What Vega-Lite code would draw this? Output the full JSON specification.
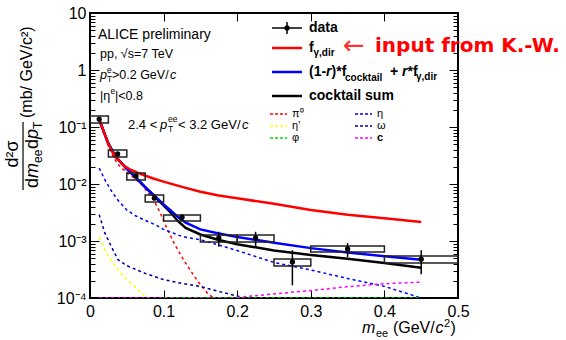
{
 "$schema": "https://vega.github.io/schema/vega-lite/v6.json",
 "width": 368, "height": 285,
 "autosize": {"type": "none"},
 "padding": {"left": 90, "top": 13, "right": 108, "bottom": 42},
 "background": "white",
 "data": {"values": [{"k": 1}]},
 "config": {
  "view": {"stroke": "black", "strokeWidth": 2},
  "text": {"font": "Liberation Sans", "align": "left", "baseline": "middle", "color": "black", "fontSize": 12.5},
  "axis": {"grid": false, "domain": false, "tickColor": "black", "tickWidth": 1, "labelColor": "black", "labelFont": "Liberation Sans", "labelFontSize": 16, "title": null, "labelOverlap": false, "labelFlush": false}
 },
 "datasets": {
  "pts": [
   {"x":0.0125,"y":0.138,"xlo":0,"xhi":0.025,"blo":0.1175,"bhi":0.156,"elo":0.132,"ehi":0.144},
   {"x":0.0375,"y":0.0336,"xlo":0.025,"xhi":0.05,"blo":0.0298,"bhi":0.0394,"elo":0.032,"ehi":0.0352},
   {"x":0.0625,"y":0.0138,"xlo":0.05,"xhi":0.075,"blo":0.01175,"bhi":0.0156,"elo":0.0131,"ehi":0.0145},
   {"x":0.0875,"y":0.00567,"xlo":0.075,"xhi":0.1,"blo":0.00483,"bhi":0.00641,"elo":0.0053,"ehi":0.0061},
   {"x":0.125,"y":0.00262,"xlo":0.1,"xhi":0.15,"blo":0.00224,"bhi":0.00286,"elo":0.00235,"ehi":0.0029},
   {"x":0.175,"y":0.00113,"xlo":0.15,"xhi":0.2,"blo":0.00096,"bhi":0.00127,"elo":0.00079,"ehi":0.00145},
   {"x":0.225,"y":0.00113,"xlo":0.2,"xhi":0.25,"blo":0.00096,"bhi":0.00127,"elo":0.00079,"ehi":0.00145},
   {"x":0.275,"y":0.000428,"xlo":0.25,"xhi":0.3,"blo":0.000364,"bhi":0.000483,"elo":0.000167,"ehi":0.00069},
   {"x":0.35,"y":0.000724,"xlo":0.3,"xhi":0.4,"blo":0.000641,"bhi":0.000817,"elo":0.00052,"ehi":0.00092},
   {"x":0.45,"y":0.00048,"xlo":0.4,"xhi":0.5,"blo":0.000411,"bhi":0.000546,"elo":0.00026,"ehi":0.00069}
  ],
  "curves": [
   {"s":"pi0","x":0.0125,"y":0.13},{"s":"pi0","x":0.02,"y":0.07},{"s":"pi0","x":0.025,"y":0.046},{"s":"pi0","x":0.03,"y":0.033},{"s":"pi0","x":0.038,"y":0.022},{"s":"pi0","x":0.05,"y":0.0158},{"s":"pi0","x":0.06,"y":0.0128},{"s":"pi0","x":0.07,"y":0.0098},{"s":"pi0","x":0.08,"y":0.0068},{"s":"pi0","x":0.087,"y":0.0051},{"s":"pi0","x":0.095,"y":0.0032},{"s":"pi0","x":0.105,"y":0.0016},{"s":"pi0","x":0.115,"y":0.00088},{"s":"pi0","x":0.127,"y":0.00047},{"s":"pi0","x":0.14,"y":0.00026},{"s":"pi0","x":0.15,"y":0.00017},{"s":"pi0","x":0.16,"y":0.00012},{"s":"pi0","x":0.168,"y":0.0001},
   {"s":"eta","x":0.0125,"y":0.019},{"s":"eta","x":0.02,"y":0.012},{"s":"eta","x":0.03,"y":0.0072},{"s":"eta","x":0.038,"y":0.0052},{"s":"eta","x":0.05,"y":0.0035},{"s":"eta","x":0.061,"y":0.0028},{"s":"eta","x":0.075,"y":0.0023},{"s":"eta","x":0.09,"y":0.0019},{"s":"eta","x":0.1,"y":0.0016},{"s":"eta","x":0.125,"y":0.0012},{"s":"eta","x":0.15,"y":0.00105},{"s":"eta","x":0.175,"y":0.00085},{"s":"eta","x":0.2,"y":0.00068},{"s":"eta","x":0.25,"y":0.00042},{"s":"eta","x":0.3,"y":0.00031},{"s":"eta","x":0.35,"y":0.00022},{"s":"eta","x":0.4,"y":0.00016},{"s":"eta","x":0.45,"y":0.0001},
   {"s":"etap","x":0.0125,"y":0.00117},{"s":"etap","x":0.02,"y":0.0007},{"s":"etap","x":0.03,"y":0.00043},{"s":"etap","x":0.038,"y":0.00031},{"s":"etap","x":0.05,"y":0.00021},{"s":"etap","x":0.061,"y":0.00016},{"s":"etap","x":0.07,"y":0.00012},{"s":"etap","x":0.08,"y":0.0001},
   {"s":"omega","x":0.0125,"y":0.0029},{"s":"omega","x":0.02,"y":0.0014},{"s":"omega","x":0.03,"y":0.00075},{"s":"omega","x":0.038,"y":0.00047},{"s":"omega","x":0.05,"y":0.00037},{"s":"omega","x":0.075,"y":0.00027},{"s":"omega","x":0.1,"y":0.00021},{"s":"omega","x":0.125,"y":0.00018},{"s":"omega","x":0.15,"y":0.00016},{"s":"omega","x":0.175,"y":0.00013},{"s":"omega","x":0.2,"y":0.000108},{"s":"omega","x":0.21,"y":0.0001},
   {"s":"c","x":0.0125,"y":0.0001},{"s":"c","x":0.19,"y":0.0001},{"s":"c","x":0.22,"y":0.000108},{"s":"c","x":0.25,"y":0.000118},{"s":"c","x":0.3,"y":0.000135},{"s":"c","x":0.35,"y":0.000158},{"s":"c","x":0.4,"y":0.000178},{"s":"c","x":0.45,"y":0.00019},
   {"s":"phi","x":0.1,"y":0.0001},{"s":"phi","x":0.45,"y":0.0001},
   {"s":"cocktail","x":0.0125,"y":0.135},{"s":"cocktail","x":0.017,"y":0.095},{"s":"cocktail","x":0.02,"y":0.075},{"s":"cocktail","x":0.025,"y":0.051},{"s":"cocktail","x":0.035,"y":0.03},{"s":"cocktail","x":0.05,"y":0.0185},{"s":"cocktail","x":0.061,"y":0.0135},{"s":"cocktail","x":0.075,"y":0.0088},{"s":"cocktail","x":0.086,"y":0.0063},{"s":"cocktail","x":0.1,"y":0.0042},{"s":"cocktail","x":0.11,"y":0.0031},{"s":"cocktail","x":0.12,"y":0.0022},{"s":"cocktail","x":0.13,"y":0.0017},{"s":"cocktail","x":0.15,"y":0.0013},{"s":"cocktail","x":0.175,"y":0.00104},{"s":"cocktail","x":0.2,"y":0.00088},{"s":"cocktail","x":0.25,"y":0.00068},{"s":"cocktail","x":0.3,"y":0.00057},{"s":"cocktail","x":0.35,"y":0.00049},{"s":"cocktail","x":0.4,"y":0.00041},{"s":"cocktail","x":0.45,"y":0.00034},
   {"s":"total","x":0.0125,"y":0.135},{"s":"total","x":0.017,"y":0.095},{"s":"total","x":0.02,"y":0.075},{"s":"total","x":0.025,"y":0.051},{"s":"total","x":0.035,"y":0.03},{"s":"total","x":0.05,"y":0.0185},{"s":"total","x":0.061,"y":0.0135},{"s":"total","x":0.075,"y":0.0088},{"s":"total","x":0.086,"y":0.0065},{"s":"total","x":0.1,"y":0.0044},{"s":"total","x":0.11,"y":0.0034},{"s":"total","x":0.12,"y":0.0026},{"s":"total","x":0.13,"y":0.0021},{"s":"total","x":0.15,"y":0.0016},{"s":"total","x":0.175,"y":0.00135},{"s":"total","x":0.2,"y":0.00118},{"s":"total","x":0.25,"y":0.00093},{"s":"total","x":0.3,"y":0.00075},{"s":"total","x":0.35,"y":0.00063},{"s":"total","x":0.4,"y":0.00054},{"s":"total","x":0.45,"y":0.00047},
   {"s":"fdir","x":0.0125,"y":0.135},{"s":"fdir","x":0.017,"y":0.095},{"s":"fdir","x":0.02,"y":0.075},{"s":"fdir","x":0.025,"y":0.051},{"s":"fdir","x":0.03,"y":0.037},{"s":"fdir","x":0.037,"y":0.028},{"s":"fdir","x":0.045,"y":0.0215},{"s":"fdir","x":0.055,"y":0.0178},{"s":"fdir","x":0.07,"y":0.0148},{"s":"fdir","x":0.085,"y":0.0126},{"s":"fdir","x":0.1,"y":0.011},{"s":"fdir","x":0.125,"y":0.0089},{"s":"fdir","x":0.15,"y":0.0073},{"s":"fdir","x":0.175,"y":0.0063},{"s":"fdir","x":0.2,"y":0.0056},{"s":"fdir","x":0.25,"y":0.0045},{"s":"fdir","x":0.3,"y":0.0035},{"s":"fdir","x":0.35,"y":0.0029},{"s":"fdir","x":0.4,"y":0.0025},{"s":"fdir","x":0.45,"y":0.00215}
  ]
 },
 "resolve": {"axis": {"x": "independent", "y": "independent"}},
 "layer": [
  {"data": {"name": "pts"}, "mark": {"type": "point", "opacity": 0},
   "encoding": {
    "x": {"field": "x", "type": "quantitative", "scale": {"domain": [0, 0.5], "nice": false, "zero": false},
      "axis": {"orient": "bottom", "values": [0, 0.1, 0.2, 0.3, 0.4, 0.5], "labelExpr": "datum.value == 0 ? '0' : format(datum.value, '.1f')", "tickSize": -8, "labelPadding": 13}},
    "y": {"field": "y", "type": "quantitative", "scale": {"type": "log", "domain": [0.0001, 10], "nice": false},
      "axis": {"orient": "left", "values": [0.0001,0.0002,0.0003,0.0004,0.0005,0.0006,0.0007,0.0008,0.0009,0.001,0.002,0.003,0.004,0.005,0.006,0.007,0.008,0.009,0.01,0.02,0.03,0.04,0.05,0.06,0.07,0.08,0.09,0.1,0.2,0.3,0.4,0.5,0.6,0.7,0.8,0.9,1,2,3,4,5,6,7,8,9,10],
       "labelExpr": "datum.value == 10 ? '10' : datum.value == 1 ? '1' : datum.value == 0.1 ? '10⁻¹' : datum.value == 0.01 ? '10⁻²' : datum.value == 0.001 ? '10⁻³' : datum.value == 0.0001 ? '10⁻⁴' : ''",
       "tickSize": {"condition": {"test": "indexof([0.0001,0.001,0.01,0.1,1,10], datum.value) >= 0", "value": -9}, "value": -5},
       "labelPadding": 13}}
   }},
  {"data": {"name": "pts"}, "mark": {"type": "point", "opacity": 0},
   "encoding": {
    "x": {"field": "x", "type": "quantitative", "axis": {"orient": "top", "values": [0, 0.1, 0.2, 0.3, 0.4, 0.5], "labels": false, "tickSize": -8}},
    "y": {"field": "y", "type": "quantitative", "axis": {"orient": "right", "labels": false, "values": [0.0001,0.0002,0.0003,0.0004,0.0005,0.0006,0.0007,0.0008,0.0009,0.001,0.002,0.003,0.004,0.005,0.006,0.007,0.008,0.009,0.01,0.02,0.03,0.04,0.05,0.06,0.07,0.08,0.09,0.1,0.2,0.3,0.4,0.5,0.6,0.7,0.8,0.9,1,2,3,4,5,6,7,8,9,10],
       "tickSize": {"condition": {"test": "indexof([0.0001,0.001,0.01,0.1,1,10], datum.value) >= 0", "value": -9}, "value": -5}}}
   }},
  {"data": {"name": "curves"}, "transform": [{"filter": "indexof(['pi0','eta','etap','omega','c','phi'], datum.s) >= 0"}],
   "mark": {"type": "line", "strokeDash": [3, 3], "strokeWidth": 1.5, "clip": true},
   "encoding": {
    "x": {"field": "x", "type": "quantitative", "axis": null},
    "y": {"field": "y", "type": "quantitative", "axis": null},
    "color": {"field": "s", "type": "nominal", "legend": null, "scale": {"domain": ["c", "phi", "pi0", "eta", "etap", "omega"], "range": ["#ff00ff", "#00dd00", "#ff0000", "#0000ff", "#ffff00", "#000099"]}}
   }},
  {"data": {"name": "curves"}, "transform": [{"filter": "datum.s == 'cocktail'"}],
   "mark": {"type": "line", "color": "black", "strokeWidth": 2.5, "clip": true},
   "encoding": {"x": {"field": "x", "type": "quantitative", "axis": null}, "y": {"field": "y", "type": "quantitative", "axis": null}}},
  {"data": {"name": "curves"}, "transform": [{"filter": "datum.s == 'total'"}],
   "mark": {"type": "line", "color": "#0000ff", "strokeWidth": 2.5, "clip": true},
   "encoding": {"x": {"field": "x", "type": "quantitative", "axis": null}, "y": {"field": "y", "type": "quantitative", "axis": null}}},
  {"data": {"name": "curves"}, "transform": [{"filter": "datum.s == 'fdir'"}],
   "mark": {"type": "line", "color": "#ff0000", "strokeWidth": 2.5, "clip": true},
   "encoding": {"x": {"field": "x", "type": "quantitative", "axis": null}, "y": {"field": "y", "type": "quantitative", "axis": null}}},
  {"data": {"name": "pts"}, "mark": {"type": "rect", "filled": false, "color": "#222222", "strokeWidth": 1.5, "clip": true},
   "encoding": {"x": {"field": "xlo", "type": "quantitative", "axis": null}, "x2": {"field": "xhi"}, "y": {"field": "blo", "type": "quantitative", "axis": null}, "y2": {"field": "bhi"}}},
  {"data": {"name": "pts"}, "mark": {"type": "rule", "color": "black", "strokeWidth": 1.5},
   "encoding": {"x": {"field": "x", "type": "quantitative", "axis": null}, "y": {"field": "elo", "type": "quantitative", "axis": null}, "y2": {"field": "ehi"}}},
  {"data": {"name": "pts"}, "mark": {"type": "point", "filled": true, "shape": "circle", "size": 28, "color": "black", "opacity": 1},
   "encoding": {"x": {"field": "x", "type": "quantitative", "axis": null}, "y": {"field": "y", "type": "quantitative", "axis": null}}},

  {"mark": {"type": "text", "text": "ALICE preliminary", "fontSize": 14}, "encoding": {"x": {"datum": 0.01087, "type": "quantitative", "axis": null}, "y": {"datum": 4.11, "type": "quantitative", "axis": null}}},
  {"mark": {"type": "text", "text": "pp, √s=7 TeV"}, "encoding": {"x": {"datum": 0.01359, "type": "quantitative", "axis": null}, "y": {"datum": 1.909, "type": "quantitative", "axis": null}}},
  {"mark": {"type": "text", "text": "p", "fontStyle": "italic"}, "encoding": {"x": {"datum": 0.01359, "type": "quantitative", "axis": null}, "y": {"datum": 0.817, "type": "quantitative", "axis": null}}},
  {"mark": {"type": "text", "text": "e", "fontSize": 8.5, "dx": 7, "dy": -5}, "encoding": {"x": {"datum": 0.01359, "type": "quantitative", "axis": null}, "y": {"datum": 0.817, "type": "quantitative", "axis": null}}},
  {"mark": {"type": "text", "text": "T", "fontSize": 8.5, "dx": 7, "dy": 4}, "encoding": {"x": {"datum": 0.01359, "type": "quantitative", "axis": null}, "y": {"datum": 0.817, "type": "quantitative", "axis": null}}},
  {"mark": {"type": "text", "text": ">0.2 GeV/", "dx": 12}, "encoding": {"x": {"datum": 0.01359, "type": "quantitative", "axis": null}, "y": {"datum": 0.817, "type": "quantitative", "axis": null}}},
  {"mark": {"type": "text", "text": "c", "fontStyle": "italic", "dx": 70}, "encoding": {"x": {"datum": 0.01359, "type": "quantitative", "axis": null}, "y": {"datum": 0.817, "type": "quantitative", "axis": null}}},
  {"mark": {"type": "text", "text": "|η"}, "encoding": {"x": {"datum": 0.01359, "type": "quantitative", "axis": null}, "y": {"datum": 0.35, "type": "quantitative", "axis": null}}},
  {"mark": {"type": "text", "text": "e", "fontSize": 8.5, "dx": 10.5, "dy": -5}, "encoding": {"x": {"datum": 0.01359, "type": "quantitative", "axis": null}, "y": {"datum": 0.35, "type": "quantitative", "axis": null}}},
  {"mark": {"type": "text", "text": "|<0.8", "dx": 15}, "encoding": {"x": {"datum": 0.01359, "type": "quantitative", "axis": null}, "y": {"datum": 0.35, "type": "quantitative", "axis": null}}},
  {"mark": {"type": "text", "text": "2.4 <", "fontSize": 13}, "encoding": {"x": {"datum": 0.0516, "type": "quantitative", "axis": null}, "y": {"datum": 0.1084, "type": "quantitative", "axis": null}}},
  {"mark": {"type": "text", "text": "p", "fontSize": 13, "fontStyle": "italic", "dx": 32}, "encoding": {"x": {"datum": 0.0516, "type": "quantitative", "axis": null}, "y": {"datum": 0.1084, "type": "quantitative", "axis": null}}},
  {"mark": {"type": "text", "text": "ee", "fontSize": 8.5, "dx": 40, "dy": -6}, "encoding": {"x": {"datum": 0.0516, "type": "quantitative", "axis": null}, "y": {"datum": 0.1084, "type": "quantitative", "axis": null}}},
  {"mark": {"type": "text", "text": "T", "fontSize": 8.5, "dx": 40, "dy": 4}, "encoding": {"x": {"datum": 0.0516, "type": "quantitative", "axis": null}, "y": {"datum": 0.1084, "type": "quantitative", "axis": null}}},
  {"mark": {"type": "text", "text": "< 3.2 GeV/", "fontSize": 13, "dx": 50}, "encoding": {"x": {"datum": 0.0516, "type": "quantitative", "axis": null}, "y": {"datum": 0.1084, "type": "quantitative", "axis": null}}},
  {"mark": {"type": "text", "text": "c", "fontSize": 13, "fontStyle": "italic", "dx": 114}, "encoding": {"x": {"datum": 0.0516, "type": "quantitative", "axis": null}, "y": {"datum": 0.1084, "type": "quantitative", "axis": null}}},

  {"mark": {"type": "rule", "color": "black", "strokeWidth": 1.5}, "encoding": {"x": {"datum": 0.2473, "type": "quantitative", "axis": null}, "x2": {"datum": 0.288}, "y": {"datum": 5.456, "type": "quantitative", "axis": null}}},
  {"mark": {"type": "rule", "color": "black", "strokeWidth": 1.5}, "encoding": {"x": {"datum": 0.2677, "type": "quantitative", "axis": null}, "y": {"datum": 6.96, "type": "quantitative", "axis": null}, "y2": {"datum": 4.28}}},
  {"mark": {"type": "point", "filled": true, "shape": "circle", "size": 28, "color": "black", "opacity": 1}, "encoding": {"x": {"datum": 0.2677, "type": "quantitative", "axis": null}, "y": {"datum": 5.456, "type": "quantitative", "axis": null}}},
  {"mark": {"type": "text", "text": "data", "fontSize": 14, "fontWeight": "bold"}, "encoding": {"x": {"datum": 0.2976, "type": "quantitative", "axis": null}, "y": {"datum": 5.456, "type": "quantitative", "axis": null}}},

  {"mark": {"type": "rule", "color": "#ff0000", "strokeWidth": 2.5}, "encoding": {"x": {"datum": 0.2473, "type": "quantitative", "axis": null}, "x2": {"datum": 0.288}, "y": {"datum": 2.432, "type": "quantitative", "axis": null}}},
  {"mark": {"type": "text", "text": "f", "fontSize": 14, "fontWeight": "bold"}, "encoding": {"x": {"datum": 0.2976, "type": "quantitative", "axis": null}, "y": {"datum": 2.432, "type": "quantitative", "axis": null}}},
  {"mark": {"type": "text", "text": "γ,dir", "fontSize": 10, "fontWeight": "bold", "dx": 4.5, "dy": 5}, "encoding": {"x": {"datum": 0.2976, "type": "quantitative", "axis": null}, "y": {"datum": 2.432, "type": "quantitative", "axis": null}}},
  {"mark": {"type": "text", "text": "←", "font": "DejaVu Sans", "fontSize": 26, "color": "#ff3030"}, "encoding": {"x": {"datum": 0.3438, "type": "quantitative", "axis": null}, "y": {"datum": 2.64, "type": "quantitative", "axis": null}}},
  {"mark": {"type": "text", "text": "input from K.-W.", "font": "DejaVu Sans", "fontSize": 20, "fontWeight": "bold", "color": "#ff0000"}, "encoding": {"x": {"datum": 0.3872, "type": "quantitative", "axis": null}, "y": {"datum": 2.64, "type": "quantitative", "axis": null}}},

  {"mark": {"type": "rule", "color": "#0000ff", "strokeWidth": 2.5}, "encoding": {"x": {"datum": 0.2473, "type": "quantitative", "axis": null}, "x2": {"datum": 0.288}, "y": {"datum": 0.9226, "type": "quantitative", "axis": null}}},
  {"mark": {"type": "text", "text": "(1-", "fontSize": 14, "fontWeight": "bold"}, "encoding": {"x": {"datum": 0.2976, "type": "quantitative", "axis": null}, "y": {"datum": 0.9226, "type": "quantitative", "axis": null}}},
  {"mark": {"type": "text", "text": "r", "fontSize": 14, "fontWeight": "bold", "fontStyle": "italic", "dx": 17}, "encoding": {"x": {"datum": 0.2976, "type": "quantitative", "axis": null}, "y": {"datum": 0.9226, "type": "quantitative", "axis": null}}},
  {"mark": {"type": "text", "text": ")*f", "fontSize": 14, "fontWeight": "bold", "dx": 22.5}, "encoding": {"x": {"datum": 0.2976, "type": "quantitative", "axis": null}, "y": {"datum": 0.9226, "type": "quantitative", "axis": null}}},
  {"mark": {"type": "text", "text": "cocktail", "fontSize": 10, "fontWeight": "bold", "dx": 36, "dy": 6}, "encoding": {"x": {"datum": 0.2976, "type": "quantitative", "axis": null}, "y": {"datum": 0.9226, "type": "quantitative", "axis": null}}},
  {"mark": {"type": "text", "text": "+", "fontSize": 14, "fontWeight": "bold", "dx": 81}, "encoding": {"x": {"datum": 0.2976, "type": "quantitative", "axis": null}, "y": {"datum": 0.9226, "type": "quantitative", "axis": null}}},
  {"mark": {"type": "text", "text": "r", "fontSize": 14, "fontWeight": "bold", "fontStyle": "italic", "dx": 93}, "encoding": {"x": {"datum": 0.2976, "type": "quantitative", "axis": null}, "y": {"datum": 0.9226, "type": "quantitative", "axis": null}}},
  {"mark": {"type": "text", "text": "*f", "fontSize": 14, "fontWeight": "bold", "dx": 98.5}, "encoding": {"x": {"datum": 0.2976, "type": "quantitative", "axis": null}, "y": {"datum": 0.9226, "type": "quantitative", "axis": null}}},
  {"mark": {"type": "text", "text": "γ,dir", "fontSize": 10, "fontWeight": "bold", "dx": 107, "dy": 5}, "encoding": {"x": {"datum": 0.2976, "type": "quantitative", "axis": null}, "y": {"datum": 0.9226, "type": "quantitative", "axis": null}}},

  {"mark": {"type": "rule", "color": "black", "strokeWidth": 2.5}, "encoding": {"x": {"datum": 0.2473, "type": "quantitative", "axis": null}, "x2": {"datum": 0.288}, "y": {"datum": 0.35, "type": "quantitative", "axis": null}}},
  {"mark": {"type": "text", "text": "cocktail sum", "fontSize": 14, "fontWeight": "bold"}, "encoding": {"x": {"datum": 0.2976, "type": "quantitative", "axis": null}, "y": {"datum": 0.35, "type": "quantitative", "axis": null}}},

  {"mark": {"type": "rule", "color": "#ff0000", "strokeWidth": 1.5, "strokeDash": [3, 2]}, "encoding": {"x": {"datum": 0.2446, "type": "quantitative", "axis": null}, "x2": {"datum": 0.2677}, "y": {"datum": 0.169, "type": "quantitative", "axis": null}}},
  {"mark": {"type": "rule", "color": "#ffff00", "strokeWidth": 1.5, "strokeDash": [3, 2]}, "encoding": {"x": {"datum": 0.2446, "type": "quantitative", "axis": null}, "x2": {"datum": 0.2677}, "y": {"datum": 0.1042, "type": "quantitative", "axis": null}}},
  {"mark": {"type": "rule", "color": "#00dd00", "strokeWidth": 1.5, "strokeDash": [3, 2]}, "encoding": {"x": {"datum": 0.2446, "type": "quantitative", "axis": null}, "x2": {"datum": 0.2677}, "y": {"datum": 0.0641, "type": "quantitative", "axis": null}}},
  {"mark": {"type": "rule", "color": "#0000ff", "strokeWidth": 1.5, "strokeDash": [3, 2]}, "encoding": {"x": {"datum": 0.3601, "type": "quantitative", "axis": null}, "x2": {"datum": 0.3832}, "y": {"datum": 0.169, "type": "quantitative", "axis": null}}},
  {"mark": {"type": "rule", "color": "#000099", "strokeWidth": 1.5, "strokeDash": [3, 2]}, "encoding": {"x": {"datum": 0.3601, "type": "quantitative", "axis": null}, "x2": {"datum": 0.3832}, "y": {"datum": 0.1042, "type": "quantitative", "axis": null}}},
  {"mark": {"type": "rule", "color": "#ff00ff", "strokeWidth": 1.5, "strokeDash": [3, 2]}, "encoding": {"x": {"datum": 0.3601, "type": "quantitative", "axis": null}, "x2": {"datum": 0.3832}, "y": {"datum": 0.0641, "type": "quantitative", "axis": null}}},
  {"mark": {"type": "text", "text": "π⁰", "fontSize": 11}, "encoding": {"x": {"datum": 0.2745, "type": "quantitative", "axis": null}, "y": {"datum": 0.169, "type": "quantitative", "axis": null}}},
  {"mark": {"type": "text", "text": "η'", "fontSize": 11}, "encoding": {"x": {"datum": 0.2745, "type": "quantitative", "axis": null}, "y": {"datum": 0.1042, "type": "quantitative", "axis": null}}},
  {"mark": {"type": "text", "text": "φ", "fontSize": 11}, "encoding": {"x": {"datum": 0.2745, "type": "quantitative", "axis": null}, "y": {"datum": 0.0641, "type": "quantitative", "axis": null}}},
  {"mark": {"type": "text", "text": "η", "fontSize": 11}, "encoding": {"x": {"datum": 0.3899, "type": "quantitative", "axis": null}, "y": {"datum": 0.169, "type": "quantitative", "axis": null}}},
  {"mark": {"type": "text", "text": "ω", "fontSize": 11}, "encoding": {"x": {"datum": 0.3899, "type": "quantitative", "axis": null}, "y": {"datum": 0.1042, "type": "quantitative", "axis": null}}},
  {"mark": {"type": "text", "text": "c", "fontSize": 11, "fontWeight": "bold"}, "encoding": {"x": {"datum": 0.3899, "type": "quantitative", "axis": null}, "y": {"datum": 0.0641, "type": "quantitative", "axis": null}}},

  {"mark": {"type": "text", "text": "(mb/ GeV/c²)", "fontSize": 16, "angle": 270}, "encoding": {"x": {"datum": -0.0856, "type": "quantitative", "axis": null}, "y": {"datum": 0.1439, "type": "quantitative", "axis": null}}},
  {"mark": {"type": "text", "text": "d²σ", "fontSize": 18, "angle": 270, "align": "center"}, "encoding": {"x": {"datum": -0.1046, "type": "quantitative", "axis": null}, "y": {"datum": 0.0336, "type": "quantitative", "axis": null}}},
  {"mark": {"type": "rule", "color": "black", "strokeWidth": 1.2}, "encoding": {"x": {"datum": -0.091, "type": "quantitative", "axis": null}, "y": {"datum": 0.1225, "type": "quantitative", "axis": null}, "y2": {"datum": 0.00785}}},
  {"mark": {"type": "text", "text": "d", "fontSize": 18, "angle": 270}, "encoding": {"x": {"datum": -0.0774, "type": "quantitative", "axis": null}, "y": {"datum": 0.00851, "type": "quantitative", "axis": null}}},
  {"mark": {"type": "text", "text": "m", "fontSize": 18, "angle": 270, "fontStyle": "italic", "dx": 10}, "encoding": {"x": {"datum": -0.0774, "type": "quantitative", "axis": null}, "y": {"datum": 0.00851, "type": "quantitative", "axis": null}}},
  {"mark": {"type": "text", "text": "ee", "fontSize": 12, "angle": 270, "dx": 25, "dy": 5}, "encoding": {"x": {"datum": -0.0774, "type": "quantitative", "axis": null}, "y": {"datum": 0.00851, "type": "quantitative", "axis": null}}},
  {"mark": {"type": "text", "text": "d", "fontSize": 18, "angle": 270, "dx": 39}, "encoding": {"x": {"datum": -0.0774, "type": "quantitative", "axis": null}, "y": {"datum": 0.00851, "type": "quantitative", "axis": null}}},
  {"mark": {"type": "text", "text": "p", "fontSize": 18, "angle": 270, "fontStyle": "italic", "dx": 49}, "encoding": {"x": {"datum": -0.0774, "type": "quantitative", "axis": null}, "y": {"datum": 0.00851, "type": "quantitative", "axis": null}}},
  {"mark": {"type": "text", "text": "T", "fontSize": 12, "angle": 270, "dx": 59, "dy": 5}, "encoding": {"x": {"datum": -0.0774, "type": "quantitative", "axis": null}, "y": {"datum": 0.00851, "type": "quantitative", "axis": null}}},

  {"mark": {"type": "text", "text": "m", "fontSize": 16, "fontStyle": "italic", "baseline": "alphabetic"}, "encoding": {"x": {"datum": 0.3695, "type": "quantitative", "axis": null}, "y": {"datum": 0.0000243, "type": "quantitative", "axis": null}}},
  {"mark": {"type": "text", "text": "ee", "fontSize": 11, "baseline": "alphabetic", "dx": 14, "dy": 4}, "encoding": {"x": {"datum": 0.3695, "type": "quantitative", "axis": null}, "y": {"datum": 0.0000243, "type": "quantitative", "axis": null}}},
  {"mark": {"type": "text", "text": "(GeV/", "fontSize": 16, "baseline": "alphabetic", "dx": 31}, "encoding": {"x": {"datum": 0.3695, "type": "quantitative", "axis": null}, "y": {"datum": 0.0000243, "type": "quantitative", "axis": null}}},
  {"mark": {"type": "text", "text": "c", "fontSize": 16, "fontStyle": "italic", "baseline": "alphabetic", "dx": 73.5}, "encoding": {"x": {"datum": 0.3695, "type": "quantitative", "axis": null}, "y": {"datum": 0.0000243, "type": "quantitative", "axis": null}}},
  {"mark": {"type": "text", "text": "2", "fontSize": 11, "baseline": "alphabetic", "dx": 82, "dy": -6}, "encoding": {"x": {"datum": 0.3695, "type": "quantitative", "axis": null}, "y": {"datum": 0.0000243, "type": "quantitative", "axis": null}}},
  {"mark": {"type": "text", "text": ")", "fontSize": 16, "baseline": "alphabetic", "dx": 88.5}, "encoding": {"x": {"datum": 0.3695, "type": "quantitative", "axis": null}, "y": {"datum": 0.0000243, "type": "quantitative", "axis": null}}}
 ]
}
